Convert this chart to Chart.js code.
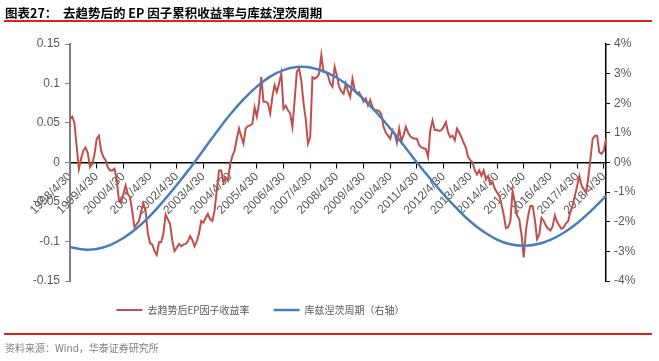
<!DOCTYPE html>
<html>
<head>
<meta charset="utf-8">
<script src="https://cdn.jsdelivr.net/npm/chart.js@4.4.1/dist/chart.umd.min.js"></script>
<style>
  html, body { margin: 0; padding: 0; background: #fff; }
  #wrap { position: relative; width: 659px; height: 361px; overflow: hidden; }
  #title { position: absolute; left: 5px; top: 3px; font: bold 12.5px "Noto Sans CJK SC", sans-serif; color: #000; white-space: pre; }
  .rule { position: absolute; left: 4px; width: 648px; height: 1.5px; background: #e0201c; }
  #footer { position: absolute; left: 5px; top: 340px; font: 10px "Noto Sans CJK SC", sans-serif; color: #7f7f7f; }
  canvas { position: absolute; left: 0; top: 0; }
</style>
</head>
<body>
<div id="wrap">
  <canvas id="c" width="659" height="361"></canvas>
  <div id="title">图表27：  去趋势后的 EP 因子累积收益率与库兹涅茨周期</div>
  <div class="rule" style="top:20px"></div>
  <div class="rule" style="top:333px"></div>
  <div id="footer">资料来源：Wind，华泰证券研究所</div>
</div>
<script>
// ---- data ----
const startYear = 1998, startMonth = 4, monthCount = 242;
const seriesNames = ['去趋势后EP因子收益率', '库兹涅茨周期（右轴）'];

// detrended EP factor cumulative return, monthly from 1998/4/30
const epReturn = [
  0.055,0.058,0.050,0.020,-0.008,0.005,0.015,0.019,0.012,-0.006,-0.002,0.010,
  0.030,0.034,0.015,0.007,0.003,-0.006,-0.010,-0.010,-0.008,-0.022,-0.048,-0.050,
  -0.040,-0.029,-0.040,-0.044,-0.062,-0.082,-0.078,-0.074,-0.062,-0.052,-0.061,-0.090,
  -0.102,-0.104,-0.112,-0.117,-0.101,-0.101,-0.090,-0.066,-0.072,-0.078,-0.099,-0.112,
  -0.108,-0.103,-0.106,-0.104,-0.103,-0.100,-0.093,-0.098,-0.106,-0.100,-0.090,-0.074,
  -0.076,-0.070,-0.065,-0.072,-0.074,-0.061,-0.035,-0.010,-0.010,-0.025,-0.019,-0.023,
  -0.002,0.008,0.015,0.030,0.043,0.033,0.024,0.043,0.046,0.047,0.049,0.070,
  0.058,0.075,0.108,0.077,0.077,0.075,0.062,0.083,0.098,0.089,0.100,0.113,
  0.068,0.072,0.066,0.062,0.045,0.079,0.115,0.119,0.104,0.075,0.055,0.024,
  0.032,0.108,0.106,0.108,0.112,0.136,0.115,0.115,0.110,0.100,0.096,0.121,
  0.110,0.096,0.090,0.087,0.100,0.090,0.083,0.106,0.092,0.087,0.089,0.083,
  0.077,0.081,0.072,0.079,0.070,0.066,0.066,0.065,0.061,0.045,0.038,0.034,
  0.030,0.041,0.036,0.025,0.043,0.027,0.035,0.045,0.038,0.033,0.031,0.030,
  0.030,0.022,0.019,0.018,0.017,0.007,0.041,0.053,0.041,0.041,0.040,0.041,
  0.045,0.051,0.038,0.032,0.034,0.028,0.043,0.038,0.032,0.025,0.019,0.007,
  0.003,0.000,-0.010,-0.015,-0.010,-0.017,-0.010,-0.021,-0.017,-0.027,-0.025,-0.033,
  -0.038,-0.042,-0.053,-0.066,-0.083,-0.082,-0.074,-0.036,-0.050,-0.067,-0.072,-0.091,
  -0.120,-0.086,-0.067,-0.055,-0.055,-0.072,-0.097,-0.091,-0.070,-0.074,-0.080,-0.084,
  -0.086,-0.081,-0.067,-0.075,-0.080,-0.084,-0.082,-0.077,-0.074,-0.062,-0.055,-0.042,
  -0.030,-0.017,-0.029,-0.034,-0.038,-0.020,0.005,0.030,0.034,0.034,0.013,0.011,
  0.015,0.030
];

// Kuznets cycle (%), read every 6 months from 1998/4/30, last value at the final month
const kuznetsStep = 6;
const kuznetsCycle = [
  -2.85,-2.94,-2.92,-2.79,-2.55,-2.22,-1.80,-1.30,-0.76,-0.19,
  0.42,1.04,1.62,2.13,2.56,2.90,3.12,3.22,3.21,3.08,
  2.86,2.54,2.14,1.67,1.15,0.58,0.00,-0.55,-1.08,-1.56,
  -1.99,-2.34,-2.60,-2.76,-2.81,-2.76,-2.61,-2.37,-2.05,-1.65,
  -1.20,-1.12
];

const leftTicks = [-0.15, -0.1, -0.05, 0, 0.05, 0.1, 0.15];
const rightTicks = [-4, -3, -2, -1, 0, 1, 2, 3, 4];

// month-end date labels
const labels = [];
for (let m = 0; m < monthCount; m++) {
  const y = startYear + Math.floor((startMonth - 1 + m) / 12);
  const mo = (startMonth - 1 + m) % 12 + 1;
  const d = new Date(y, mo, 0).getDate();
  labels.push(y + '/' + mo + '/' + d);
}
const kuznetsData = kuznetsCycle.map((v, i) => ({ x: labels[Math.min(i * kuznetsStep, monthCount - 1)], y: v }));

// ---- chart ----
const tickFont = { family: '"Liberation Sans", Arial, sans-serif', size: 12 };
const legendShift = {
  id: 'legendShift',
  afterLayout(chart) {
    const lg = chart.legend;
    if (lg) { lg.left -= 69; lg.right -= 69; }
  }
};

new Chart(document.getElementById('c'), {
  type: 'line',
  data: {
    labels: labels,
    datasets: [
      {
        label: seriesNames[0], data: epReturn, yAxisID: 'y',
        borderColor: '#c0504d', backgroundColor: '#c0504d', borderWidth: 2,
        pointRadius: 0, tension: 0, order: 1
      },
      {
        label: seriesNames[1], data: kuznetsData, yAxisID: 'y1',
        borderColor: '#4a7ebb', backgroundColor: '#4a7ebb', borderWidth: 2.5,
        pointRadius: 0, tension: 0.4, order: 0
      }
    ]
  },
  options: {
    responsive: false,
    animation: false,
    layout: { padding: { top: 44, left: 0, right: 0, bottom: 36 } },
    plugins: {
      title: { display: false },
      tooltip: { enabled: false },
      legend: {
        position: 'bottom',
        labels: {
          usePointStyle: true, pointStyle: 'line', pointStyleWidth: 26,
          boxHeight: 10, padding: 24, color: '#595959',
          font: { family: '"Noto Sans CJK SC", sans-serif', size: 10 },
          sort: (a, b) => a.datasetIndex - b.datasetIndex
        }
      }
    },
    scales: {
      x: {
        type: 'category',
        position: { y: 0 },
        border: { display: true, color: '#000', width: 1.5 },
        grid: {
          display: true, drawOnChartArea: false, drawTicks: true, tickLength: 5,
          color: (ctx) => (ctx.index % 12 === 0 ? '#000' : 'rgba(0,0,0,0)'), lineWidth: 1
        },
        ticks: {
          autoSkip: false, minRotation: 45, maxRotation: 45, padding: 2,
          color: '#595959', font: tickFont,
          callback: function (val, index) { return index % 12 === 0 ? labels[index] : ''; }
        }
      },
      y: {
        position: 'left', min: -0.15, max: 0.15,
        afterFit: (s) => { s.width = 70; },
        afterBuildTicks: (s) => { s.ticks = leftTicks.map(v => ({ value: v })); },
        border: { display: true, color: '#808080', width: 2 },
        grid: { display: true, drawOnChartArea: false, tickLength: 5, color: '#808080' },
        ticks: { color: '#595959', font: tickFont, padding: 5, callback: (v) => String(Math.round(v * 100) / 100) }
      },
      y1: {
        position: 'right', min: -4, max: 4,
        afterFit: (s) => { s.width = 53; },
        afterBuildTicks: (s) => { s.ticks = rightTicks.map(v => ({ value: v })); },
        border: { display: true, color: '#000', width: 1.5 },
        grid: { display: true, drawOnChartArea: false, tickLength: 4, color: '#000' },
        ticks: { color: '#595959', font: tickFont, padding: 4, callback: (v) => v + '%' }
      }
    }
  },
  plugins: [legendShift]
});
</script>
</body>
</html>
